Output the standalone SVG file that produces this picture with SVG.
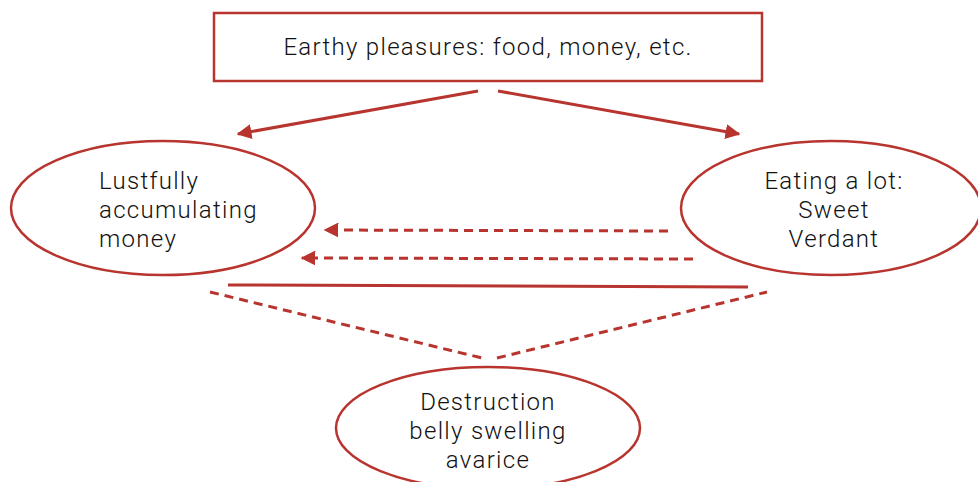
<svg xmlns="http://www.w3.org/2000/svg" width="978" height="482" viewBox="0 0 978 482">
<defs>
<style>
.n{fill:#fff;stroke:#b8342e;stroke-width:2.5}
.t{font-family:Roboto,"Liberation Sans",sans-serif;font-weight:300;font-size:24px;letter-spacing:1.3px;fill:#111}
.c{fill:none;stroke:#b8342e;stroke-width:3}
.d{stroke-dasharray:9,6}
</style>
<marker id="ah" viewBox="0 0 10 10" refX="9" refY="5" markerWidth="5" markerHeight="5" orient="auto" markerUnits="strokeWidth">
<path d="M0,0 L10,5 L0,10 z" fill="#b8342e"/>
</marker>
</defs>
<g id="earthy">
<rect class="n" x="214" y="13" width="548" height="68"/>
<text class="t" x="488" y="55" text-anchor="middle">Earthy pleasures: food, money, etc.</text>
</g>
<g id="lustfully">
<ellipse class="n" cx="163" cy="208" rx="152" ry="67"/>
<text class="t" x="99" y="189">Lustfully</text>
<text class="t" x="99" y="218">accumulating</text>
<text class="t" x="99" y="247">money</text>
</g>
<g id="eating">
<ellipse class="n" cx="831" cy="208" rx="150" ry="67"/>
<text class="t" x="834" y="189" text-anchor="middle">Eating a lot:</text>
<text class="t" x="834" y="218" text-anchor="middle">Sweet</text>
<text class="t" x="834" y="247" text-anchor="middle">Verdant</text>
</g>
<g id="destruction">
<ellipse class="n" cx="488" cy="428" rx="152" ry="61"/>
<text class="t" x="488" y="410" text-anchor="middle">Destruction</text>
<text class="t" x="488" y="439" text-anchor="middle">belly swelling</text>
<text class="t" x="488" y="468" text-anchor="middle">avarice</text>
</g>
<g id="connectors">
<line class="c" x1="478" y1="91" x2="238" y2="134" marker-end="url(#ah)"/>
<line class="c" x1="498" y1="91" x2="739" y2="134" marker-end="url(#ah)"/>
<line class="c d" x1="668" y1="231" x2="325" y2="230" marker-end="url(#ah)"/>
<line class="c d" x1="693" y1="259" x2="302" y2="258" marker-end="url(#ah)"/>
<line class="c" x1="228" y1="285" x2="748" y2="287"/>
<line class="c d" x1="210" y1="292" x2="482" y2="358"/>
<line class="c d" x1="497" y1="358" x2="767" y2="292"/>
</g>
</svg>
